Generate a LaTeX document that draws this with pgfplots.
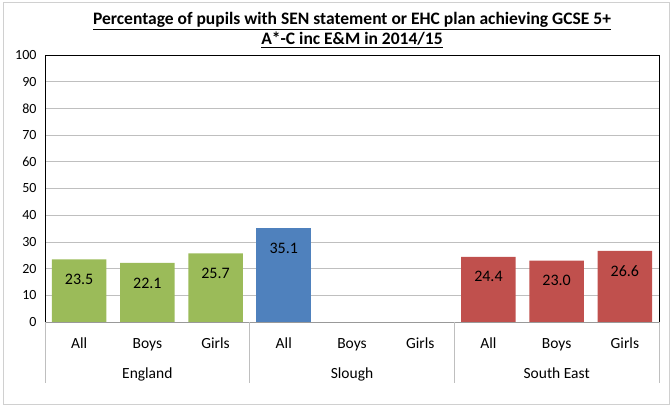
\documentclass[border=0pt]{standalone}
\usepackage{pgfplots}
\pgfplotsset{compat=1.18}
\usepackage{fontspec}
\setmainfont{Carlito}
\definecolor{cgreen}{HTML}{9BBB59}
\definecolor{cblue}{HTML}{4F81BD}
\definecolor{cred}{HTML}{C0504D}
\definecolor{cgrid}{HTML}{BFBFBF}
\definecolor{cframe}{HTML}{D0D0D0}
\begin{document}
\begin{tikzpicture}[x=1pt,y=1pt]
\path (0,0) rectangle (672,405);
\draw[cframe, line width=0.8pt] (3,1) rectangle (669,403);
\begin{axis}[
  at={(45pt,83pt)}, anchor=south west,
  scale only axis, width=614pt, height=267pt,
  xmin=-0.5, xmax=8.5, ymin=0, ymax=100,
  ytick={0,10,...,100},
  xtick={0,...,8},
  xticklabels={All,Boys,Girls,All,Boys,Girls,All,Boys,Girls},
  x tick label style={font=\fontsize{15.5}{18}\selectfont, anchor=base, yshift=-26pt},
  y tick label style={font=\fontsize{14}{16}\selectfont, anchor=east, xshift=-5pt},
  /pgf/number format/assume math mode=true,
  major tick length=0pt,
  ymajorgrids, grid style={cgrid, line width=0.8pt},
  axis line style={draw=none},
  ybar, bar shift=0pt, bar width=0.8,
  clip=false,
  nodes near coords,
  nodes near coords style={font=\fontsize{16}{18}\selectfont, anchor=center, yshift=-20pt,
    /pgf/number format/.cd, fixed, fixed zerofill, precision=1, assume math mode=true},
]
\addplot[fill=cgreen, draw=none] coordinates {(0,23.5) (1,22.1) (2,25.7)};
\addplot[fill=cblue, draw=none] coordinates {(3,35.1)};
\addplot[fill=cred, draw=none] coordinates {(6,24.4) (7,23.0) (8,26.6)};
\draw[black, line width=0.8pt] (rel axis cs:0,0) -- (rel axis cs:0,1) -- (rel axis cs:1,1) -- (rel axis cs:1,0);
\draw[cgrid!80!black, line width=0.8pt] (rel axis cs:0,0) -- (rel axis cs:1,0);
\draw[cgrid, line width=0.8pt] (axis cs:-0.5,0) -- ++(0pt,-61pt);
\draw[cgrid, line width=0.8pt] (axis cs:2.5,0) -- ++(0pt,-61pt);
\draw[cgrid, line width=0.8pt] (axis cs:5.5,0) -- ++(0pt,-61pt);
\draw[cgrid, line width=0.8pt] (axis cs:8.5,0) -- ++(0pt,-61pt);
\node[font=\fontsize{15.5}{18}\selectfont, anchor=base] at (axis cs:1,0) [yshift=-56pt] {England};
\node[font=\fontsize{15.5}{18}\selectfont, anchor=base] at (axis cs:4,0) [yshift=-56pt] {Slough};
\node[font=\fontsize{15.5}{18}\selectfont, anchor=base] at (axis cs:7,0) [yshift=-56pt] {South East};
\end{axis}
\node[font=\bfseries\fontsize{17.5}{20}\selectfont, align=center] at (352,375)
  {\underline{Percentage of pupils with SEN statement or EHC plan achieving GCSE 5+}\\\underline{A*-C inc E\&M in 2014/15}};
\end{tikzpicture}
\end{document}
